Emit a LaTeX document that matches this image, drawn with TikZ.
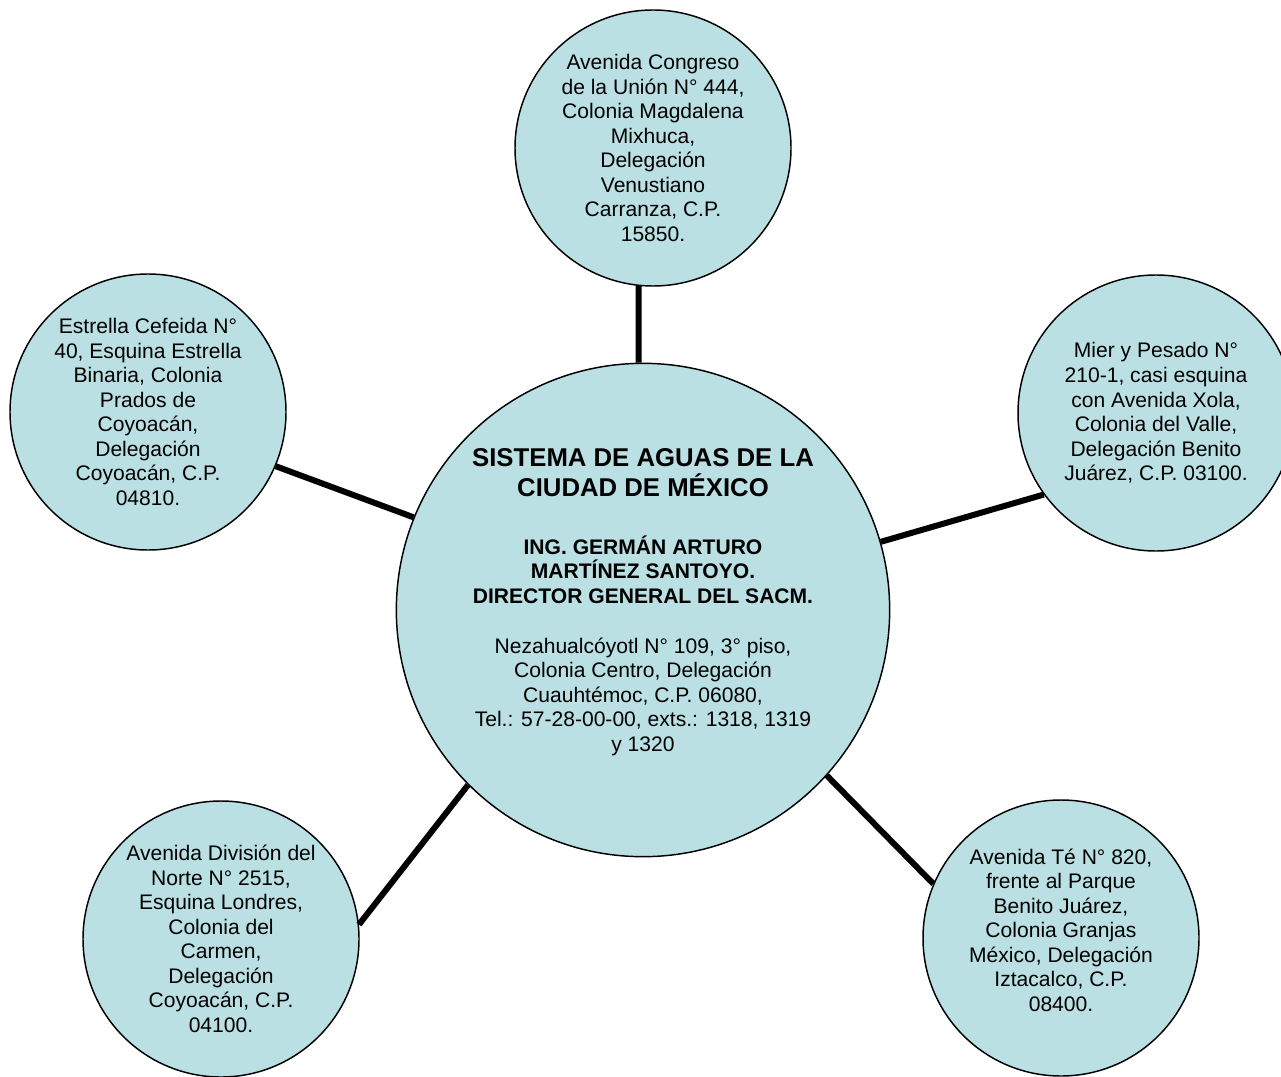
\documentclass[tikz,border=0pt]{standalone}
\usepackage{fontspec}
\setmainfont{Liberation Sans}
\definecolor{agua}{RGB}{186,224,227}
\newcommand{\titulo}[1]{{\fontsize{19.3}{22.5}\selectfont\bfseries #1}}
\begin{document}
\begin{tikzpicture}[
            x=0.75pt, y=-0.75pt,
            sede/.style={
                circle, draw, line width=1.1pt, fill=agua, align=center, inner sep=0pt,
                minimum size=207pt, font=\fontsize{15.8}{18.4}\selectfont
            },
            central/.style={sede, minimum size=370pt},
            enlace/.style={line width=4.5pt}
        ]
        \useasboundingbox (0,0) rectangle (1281,1077);

        \node[central, text depth=15pt] (sacm) at (643,610) {\titulo{SISTEMA DE AGUAS DE LA}\\[4.1pt]
            \titulo{CIUDAD DE MÉXICO}\\[24.7pt]
            \textbf{ING. GERMÁN ARTURO}\\ \textbf{MARTÍNEZ SANTOYO.}\\
            \textbf{DIRECTOR GENERAL DEL SACM.}\\[19.1pt]
            Nezahualcóyotl N° 109, 3° piso,\\ Colonia Centro, Delegación\\
            Cuauhtémoc, C.P. 06080,\\ Tel.: 57-28-00-00, exts.: 1318, 1319\\ y 1320};

        \node[sede] (congreso) at (653,148) {Avenida Congreso\\ de la Unión N° 444,\\
            Colonia Magdalena\\ Mixhuca,\\ Delegación\\ Venustiano\\ Carranza, C.P.\\ 15850.};
        \node[sede] (cefeida) at (148,412) {Estrella Cefeida N°\\ 40, Esquina Estrella\\
            Binaria, Colonia\\ Prados de\\ Coyoacán,\\ Delegación\\ Coyoacán, C.P.\\ 04810.};
        \node[sede] (pesado) at (1156,413) {Mier y Pesado N°\\ 210-1, casi esquina\\
            con Avenida Xola,\\ Colonia del Valle,\\ Delegación Benito\\ Juárez, C.P. 03100.};
        \node[sede] (division) at (221,939) {Avenida División del\\ Norte N° 2515,\\
            Esquina Londres,\\ Colonia del\\ Carmen,\\ Delegación\\ Coyoacán, C.P.\\ 04100.};
        \node[sede, text depth=12pt] (te) at (1061,938) {Avenida Té N° 820,\\ frente al Parque\\
            Benito Juárez,\\ Colonia Granjas\\ México, Delegación\\ Iztacalco, C.P.\\ 08400.};

        % enlaces con la sede central
        \draw[enlace] (congreso.264) -- (sacm.91);
        \draw[enlace] (cefeida.337) -- (sacm.158);
        \draw[enlace] (pesado.216) -- (sacm.16);
        \draw[enlace] (division.6) -- (sacm.225);
        \draw[enlace] (te.157) -- (sacm.318);

    \end{tikzpicture}
\end{document}
